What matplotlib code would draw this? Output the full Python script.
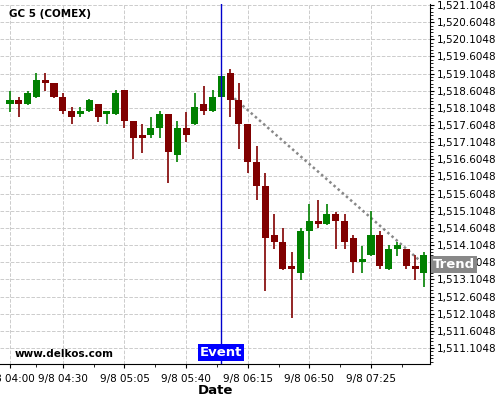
import matplotlib
matplotlib.use('Agg')
import matplotlib.pyplot as plt
import matplotlib.dates as mdates
from matplotlib.ticker import FixedLocator, FuncFormatter
import pandas as pd

# 5 minute candles, GC on COMEX
times = pd.date_range('2019-09-08 04:00', periods=48, freq='5min')
opens = [1518.23, 1518.34, 1518.23, 1518.43, 1518.92, 1518.83, 1518.42, 1518.01,
         1517.94, 1518.02, 1518.22, 1517.94, 1517.93, 1518.63, 1517.72, 1517.31,
         1517.31, 1517.52, 1517.93, 1516.73, 1517.52, 1517.64, 1518.22, 1518.01,
         1518.43, 1519.12, 1518.34, 1517.64, 1516.53, 1515.83, 1514.40, 1514.20,
         1513.50, 1513.30, 1514.52, 1514.81, 1514.72, 1515.01, 1514.81, 1514.30,
         1513.62, 1513.82, 1514.40, 1513.41, 1513.99, 1513.98, 1513.50, 1513.30]
highs = [1518.61, 1518.41, 1518.61, 1519.11, 1519.11, 1518.83, 1518.53, 1518.12,
         1518.12, 1518.36, 1518.22, 1518.01, 1518.63, 1518.63, 1517.72, 1517.63,
         1517.83, 1518.01, 1517.93, 1517.72, 1517.99, 1518.53, 1518.73, 1518.63,
         1519.03, 1519.23, 1518.82, 1517.64, 1517.00, 1516.20, 1515.00, 1514.60,
         1513.90, 1514.60, 1515.29, 1515.42, 1515.30, 1515.08, 1515.01, 1514.39,
         1514.09, 1515.10, 1514.51, 1514.10, 1514.20, 1513.98, 1513.81, 1513.90]
lows = [1517.99, 1517.83, 1518.20, 1518.40, 1518.61, 1518.40, 1517.92, 1517.63,
        1517.83, 1517.99, 1517.70, 1517.63, 1517.90, 1517.51, 1516.61, 1516.80,
        1517.22, 1517.22, 1515.91, 1516.52, 1517.10, 1517.62, 1517.91, 1517.99,
        1518.43, 1517.83, 1516.90, 1516.20, 1515.42, 1512.78, 1513.98, 1513.38,
        1511.99, 1513.09, 1513.69, 1514.60, 1514.69, 1513.98, 1513.98, 1513.28,
        1513.28, 1513.79, 1513.40, 1513.38, 1513.80, 1513.40, 1513.09, 1512.89]
closes = [1518.34, 1518.23, 1518.55, 1518.92, 1518.84, 1518.43, 1518.02, 1517.85,
          1518.01, 1518.34, 1517.85, 1518.01, 1518.54, 1517.72, 1517.24, 1517.24,
          1517.52, 1517.93, 1516.83, 1517.52, 1517.31, 1518.13, 1518.01, 1518.42,
          1519.03, 1518.34, 1517.64, 1516.54, 1515.83, 1514.32, 1514.20, 1513.41,
          1513.41, 1514.52, 1514.81, 1514.72, 1515.01, 1514.81, 1514.20, 1513.62,
          1513.70, 1514.40, 1513.50, 1513.98, 1514.11, 1513.50, 1513.41, 1513.82]

event_time = pd.Timestamp('2019-09-08 06:00')
trend_times = [pd.Timestamp('2019-09-08 06:05'), pd.Timestamp('2019-09-08 07:55')]
trend_prices = [1518.49, 1513.55]

xtick_times = ['04:00', '04:30', '05:05', '05:40', '06:15', '06:50', '07:25']
xminor_times = ['04:15', '04:47:30', '05:22:30', '05:57:30', '06:32:30', '07:07:30', '07:42:30']
ytick_values = [1511.1048 + 0.5 * k for k in range(21)]

fig = plt.figure(figsize=(5, 4), dpi=100)
ax = fig.add_axes([0.0, 0.09, 0.86, 0.90])

x = mdates.date2num(times.to_pydatetime())
up_col = '#008000'
dn_col = '#800000'
cols = [up_col if c >= o else dn_col for o, c in zip(opens, closes)]
body_w = 4.0 / 1440

ax.vlines(x, lows, highs, colors=cols, linewidth=1.2, zorder=3)
bottoms = [min(o, c) for o, c in zip(opens, closes)]
heights = [max(abs(c - o), 0.03) for o, c in zip(opens, closes)]
ax.bar(x, heights, bottom=bottoms, width=body_w, color=cols, linewidth=0, zorder=4)

# trend line
tx = mdates.date2num([t.to_pydatetime() for t in trend_times])
ax.plot(tx, trend_prices, color='#888888', linestyle=(0, (1, 1.2)), linewidth=1.8, zorder=2)

# event line
ex = mdates.date2num(event_time.to_pydatetime())
ax.axvline(ex, color='#0000cc', linewidth=1, zorder=5)

ax.set_xlim(mdates.date2num(pd.Timestamp('2019-09-08 03:54:20').to_pydatetime()),
            mdates.date2num(pd.Timestamp('2019-09-08 07:58:30').to_pydatetime()))
ax.set_ylim(1510.638, 1521.134)

# axes styling
for s in ['left', 'top']:
    ax.spines[s].set_visible(False)
ax.spines['right'].set_color('black')
ax.spines['bottom'].set_color('black')
ax.yaxis.tick_right()
ax.yaxis.set_major_locator(FixedLocator(ytick_values))
ax.yaxis.set_minor_locator(FixedLocator([1510.7048 + 0.1 * k for k in range(105)]))
ax.yaxis.set_major_formatter(FuncFormatter(lambda v, p: f'{v:,.4f}'))

maj = [mdates.date2num(pd.Timestamp('2019-09-08 ' + t).to_pydatetime()) for t in xtick_times]
mnr = [mdates.date2num(pd.Timestamp('2019-09-08 ' + t).to_pydatetime()) for t in xminor_times]
ax.xaxis.set_major_locator(FixedLocator(maj))
ax.xaxis.set_minor_locator(FixedLocator(mnr))
ax.set_xticklabels(['9/8 ' + t for t in xtick_times])

ax.tick_params(axis='both', which='major', labelsize=7.5, length=3, width=0.8, colors='black')
ax.tick_params(axis='both', which='minor', length=2, width=0.6)
ax.tick_params(axis='y', which='major', pad=2)
ax.tick_params(axis='x', which='major', pad=4)

ax.grid(True, which='major', color='#cccccc', linestyle='--', linewidth=0.7, zorder=0)
ax.set_axisbelow(True)

ax.set_xlabel('Date', fontsize=9.5, fontweight='bold', labelpad=0)

ax.text(0.02, 0.985, 'GC 5 (COMEX)', transform=ax.transAxes, fontsize=7.5,
        fontweight='bold', va='top', ha='left')
ax.text(0.035, 0.028, 'www.delkos.com', transform=ax.transAxes, fontsize=7.5,
        fontweight='bold', va='center', ha='left')

# labels
ax.annotate('Event', xy=(ex, 0), xycoords=('data', 'axes fraction'),
            xytext=(0, 8), textcoords='offset points', ha='center', va='center',
            fontsize=9.5, fontweight='bold', color='white', zorder=6,
            bbox=dict(boxstyle='square,pad=0.15', fc='#0000ff', ec='none'))
ax.annotate('Trend', xy=(1, trend_prices[-1]), xycoords=('axes fraction', 'data'),
            xytext=(2, 0), textcoords='offset points', ha='left', va='center',
            fontsize=9.5, fontweight='bold', color='white', zorder=6,
            annotation_clip=False,
            bbox=dict(boxstyle='square,pad=0.15', fc='#888888', ec='none'))

fig.savefig('out.png', dpi=100)
